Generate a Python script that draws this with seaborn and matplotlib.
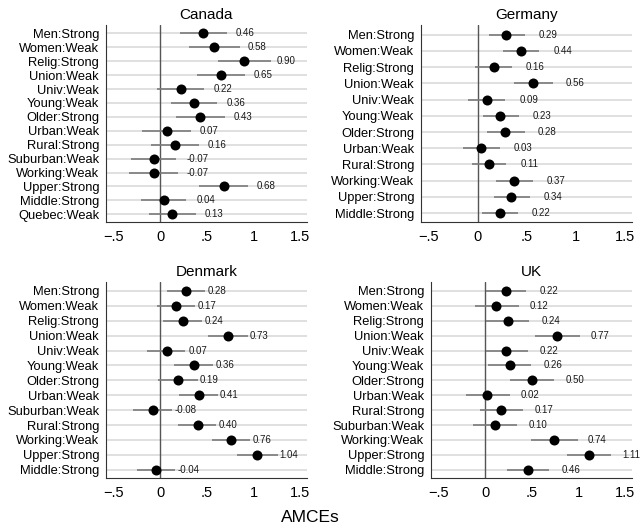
import numpy as np
import pandas as pd
import matplotlib
matplotlib.use("Agg")
import matplotlib.pyplot as plt
import seaborn as sns

# ---- data ----
can_labels = ["Men:Strong", "Women:Weak", "Relig:Strong", "Union:Weak", "Univ:Weak", "Young:Weak",
              "Older:Strong", "Urban:Weak", "Rural:Strong", "Suburban:Weak", "Working:Weak",
              "Upper:Strong", "Middle:Strong", "Quebec:Weak"]
can_est = [0.46, 0.58, 0.90, 0.65, 0.22, 0.36, 0.43, 0.07, 0.16, -0.07, -0.07, 0.68, 0.04, 0.13]
can_lo = [0.21, 0.31, 0.62, 0.39, -0.03, 0.11, 0.17, -0.19, -0.10, -0.31, -0.33, 0.42, -0.21, -0.12]
can_hi = [0.71, 0.85, 1.18, 0.91, 0.47, 0.61, 0.69, 0.33, 0.42, 0.17, 0.19, 0.94, 0.28, 0.38]

ger_labels = ["Men:Strong", "Women:Weak", "Relig:Strong", "Union:Weak", "Univ:Weak", "Young:Weak",
              "Older:Strong", "Urban:Weak", "Rural:Strong", "Working:Weak", "Upper:Strong",
              "Middle:Strong"]
ger_est = [0.29, 0.44, 0.16, 0.56, 0.09, 0.23, 0.28, 0.03, 0.11, 0.37, 0.34, 0.22]
ger_lo = [0.11, 0.26, -0.03, 0.37, -0.10, 0.05, 0.09, -0.15, -0.06, 0.18, 0.16, 0.04]
ger_hi = [0.48, 0.62, 0.35, 0.76, 0.28, 0.42, 0.48, 0.22, 0.29, 0.56, 0.53, 0.41]

den_labels = ["Men:Strong", "Women:Weak", "Relig:Strong", "Union:Weak", "Univ:Weak", "Young:Weak",
              "Older:Strong", "Urban:Weak", "Suburban:Weak", "Rural:Strong", "Working:Weak",
              "Upper:Strong", "Middle:Strong"]
den_est = [0.28, 0.17, 0.24, 0.73, 0.07, 0.36, 0.19, 0.41, -0.08, 0.40, 0.76, 1.04, -0.04]
den_lo = [0.07, -0.03, 0.03, 0.51, -0.14, 0.15, -0.02, 0.20, -0.29, 0.19, 0.55, 0.82, -0.25]
den_hi = [0.48, 0.37, 0.45, 0.94, 0.27, 0.56, 0.40, 0.62, 0.13, 0.60, 0.96, 1.26, 0.16]

uk_labels = ["Men:Strong", "Women:Weak", "Relig:Strong", "Union:Weak", "Univ:Weak", "Young:Weak",
             "Older:Strong", "Urban:Weak", "Rural:Strong", "Suburban:Weak", "Working:Weak",
             "Upper:Strong", "Middle:Strong"]
uk_est = [0.22, 0.12, 0.24, 0.77, 0.22, 0.26, 0.50, 0.02, 0.17, 0.10, 0.74, 1.11, 0.46]
uk_lo = [0.01, -0.11, 0.01, 0.53, 0.01, 0.03, 0.27, -0.21, -0.06, -0.13, 0.49, 0.87, 0.23]
uk_hi = [0.44, 0.36, 0.47, 1.01, 0.46, 0.49, 0.74, 0.26, 0.40, 0.34, 0.99, 1.35, 0.68]

x_ticks = [-0.5, 0, 0.5, 1, 1.5]
x_ticklabels = ["\u2212.5", "0", ".5", "1", "1.5"]

sns.set_theme(style="white")
plt.rcParams['font.family'] = ['Liberation Sans', 'DejaVu Sans']
plt.rcParams['text.color'] = 'black'
plt.rcParams['xtick.color'] = 'black'
plt.rcParams['ytick.color'] = 'black'

W, H = 643, 530
fig = plt.figure(figsize=(W / 100, H / 100), dpi=100)

# (title, labels, est, lo, hi, [left, right, top, bottom] px, label offset)
panels = [
    ("Canada", can_labels, can_est, can_lo, can_hi, [106, 307, 25, 222], 0.35),
    ("Germany", ger_labels, ger_est, ger_lo, ger_hi, [421, 632, 25, 222], 0.33),
    ("Denmark", den_labels, den_est, den_lo, den_hi, [106, 307, 282, 478], 0.23),
    ("UK", uk_labels, uk_est, uk_lo, uk_hi, [431, 632, 282, 478], 0.36),
]

for title, labels, est, lo, hi, box, off in panels:
    l, r, t, b = box
    ax = fig.add_axes([l / W, 1 - b / H, (r - l) / W, (b - t) / H])
    df = pd.DataFrame({"label": labels, "amce": est, "lo": lo, "hi": hi})
    df["pos"] = np.arange(len(df))
    n = len(df)

    for p in df["pos"]:
        ax.axhline(p, color="#e0e0e0", lw=1.4, zorder=0)
    ax.axvline(0, color="#555555", lw=1.0, zorder=1)
    ax.hlines(df["pos"], df["lo"], df["hi"], color="#7a7a7a", lw=1.2, zorder=2)
    sns.scatterplot(data=df, x="amce", y="pos", color="black", s=52, edgecolor="black",
                    linewidth=0, ax=ax, zorder=3, legend=False)
    for _, row in df.iterrows():
        ax.text(row["amce"] + off, row["pos"], f"{row['amce']:.2f}", fontsize=7,
                va="center", ha="left", color="#1a1a1a")

    ax.set_xlim(-0.58, 1.57)
    ax.set_ylim(n - 1 + 0.55, -0.6)
    ax.set_xticks(x_ticks)
    ax.set_xticklabels(x_ticklabels, fontsize=10.5)
    ax.set_yticks(df["pos"])
    ax.set_yticklabels(df["label"], fontsize=9.3)
    ax.set_xlabel("")
    ax.set_ylabel("")
    ax.set_title(title, fontsize=11, pad=4, color="black")
    ax.tick_params(axis="x", direction="out", length=4, width=0.8, color="#333333", pad=2)
    ax.tick_params(axis="y", direction="out", length=3, width=0.8, color="#333333", pad=2)
    for s in ["top", "right"]:
        ax.spines[s].set_visible(False)
    for s in ["left", "bottom"]:
        ax.spines[s].set_color("#333333")
        ax.spines[s].set_linewidth(0.8)

fig.text(310 / W, 1 - 517 / H, "AMCEs", fontsize=12.5, ha="center", va="center")

fig.savefig("out.png", dpi=100)
